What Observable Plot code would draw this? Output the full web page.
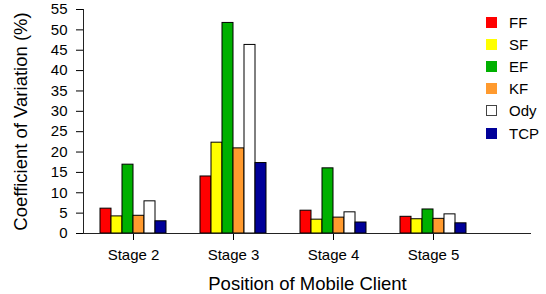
<!DOCTYPE html>
<html>
<head>
<meta charset="utf-8">
<script src="https://cdn.jsdelivr.net/npm/d3@7"></script>
<script src="https://cdn.jsdelivr.net/npm/@observablehq/plot@0.6"></script>
<style>
  html, body { margin: 0; padding: 0; background: #fff; }
  #wrap { position: relative; width: 546px; height: 294px; font-family: "Liberation Sans", Arial, sans-serif; }
  #legend { position: absolute; left: 486px; top: 11px; font-size: 15px; color: #000; }
  .row { display: flex; align-items: center; height: 22.2px; }
  .sw { width: 11px; height: 11px; margin-right: 12px; box-sizing: border-box; }
</style>
</head>
<body>
<div id="wrap"><div id="legend"></div></div>
<script>
const stages = ["Stage 2", "Stage 3", "Stage 4", "Stage 5"];
const series = ["FF", "SF", "EF", "KF", "Ody", "TCP"];
const colors = ["#ff0000", "#ffff00", "#00b000", "#ff9a2e", "#ffffff", "#000099"];
const FF  = [6.1, 14.0, 5.6, 4.1];
const SF  = [4.2, 22.3, 3.4, 3.5];
const EF  = [16.9, 51.7, 16.0, 5.9];
const KF  = [4.35, 20.9, 3.9, 3.6];
const Ody = [7.9, 46.3, 5.2, 4.7];
const TCP = [3.0, 17.3, 2.7, 2.5];
const yTicks = [0, 5, 10, 15, 20, 25, 30, 35, 40, 45, 50, 55];
const yLabel = "Coefficient of Variation (%)";
const xLabel = "Position of Mobile Client";

const values = [FF, SF, EF, KF, Ody, TCP];
const data = [];
stages.forEach((s, si) => series.forEach((name, i) => {
  data.push({stage: si + 1, i, series: name, value: values[i][si]});
}));

const barW = 0.11;
const xDomain = [0.5, 4.98];

const chart = Plot.plot({
  width: 546,
  height: 294,
  marginLeft: 83,
  marginRight: 15,
  marginTop: 9,
  marginBottom: 61,
  style: {fontFamily: "Liberation Sans, Arial, sans-serif", fontSize: "15px", color: "#000", background: "#fff"},
  x: {domain: xDomain, ticks: [1, 2, 3, 4], tickFormat: d => stages[d - 1], tickSize: 7, tickPadding: 9, label: null},
  y: {domain: [0, 55], ticks: yTicks, tickSize: 7, tickPadding: 9, label: null},
  color: {domain: series, range: colors},
  marks: [
    Plot.rect(data, {
      x1: d => d.stage + (d.i - 3) * barW,
      x2: d => d.stage + (d.i - 2) * barW,
      y1: 0,
      y2: "value",
      fill: "series",
      stroke: "#000",
      strokeWidth: 1
    }),
    Plot.ruleY([0], {stroke: "#222"}),
    Plot.ruleX([xDomain[0]], {y1: 0, y2: 55, stroke: "#222"}),
    Plot.text([yLabel], {frameAnchor: "left", rotate: -90, dx: -62, fontSize: 18.5, textAnchor: "middle", lineAnchor: "middle"}),
    Plot.text([xLabel], {frameAnchor: "bottom", dy: 51, fontSize: 18.5, textAnchor: "middle", lineAnchor: "middle"})
  ]
});
document.getElementById("wrap").prepend(chart);

const legend = document.getElementById("legend");
series.forEach((name, i) => {
  const row = document.createElement("div");
  row.className = "row";
  const sw = document.createElement("div");
  sw.className = "sw";
  sw.style.background = colors[i];
  if (name === "Ody") sw.style.border = "1px solid #444";
  const t = document.createElement("span");
  t.textContent = name;
  row.appendChild(sw);
  row.appendChild(t);
  legend.appendChild(row);
});
</script>
</body>
</html>
